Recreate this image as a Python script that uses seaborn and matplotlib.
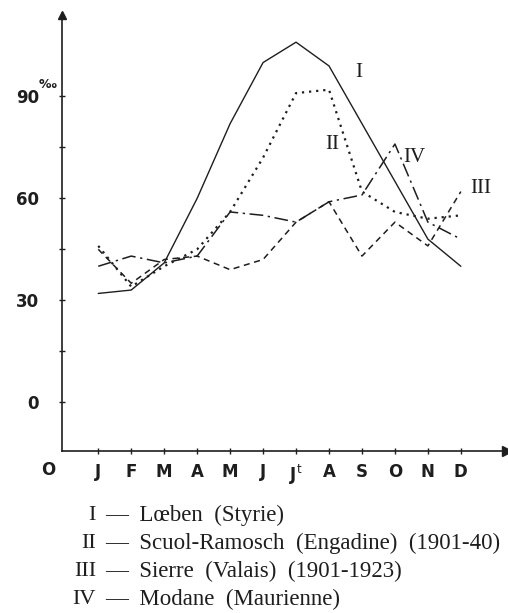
import pandas as pd
import matplotlib
matplotlib.use("Agg")
import matplotlib.pyplot as plt
import seaborn as sns

sns.set_theme(style="white")
plt.rcParams["font.family"] = ["DejaVu Sans"]

# Monthly values (per mille)
MONTHS = ["J", "F", "M", "A", "M", "J", "J$^{\\mathrm{t}}$", "A", "S", "O", "N", "D"]
MONTH_POS = list(range(1, 13))
LEOBEN = [32, 33, 41, 60, 82, 100, 106, 99, 82, 65, 48, 40]
SCUOL = [46, 34, 40, 45, 56, 72, 91, 92, 62, 56, 54, 55]
SIERRE = [45, 35, 42, 43, 39, 42, 53, 59, 43, 53, 46, 62]
MODANE = [40, 43, 41, 43, 56, 55, 53, 59, 61, 76, 53, 48]

SERIES = {"I": LEOBEN, "II": SCUOL, "III": SIERRE, "IV": MODANE}
STYLES = {
    "I": dict(linestyle="-", linewidth=1.0),
    "II": dict(linestyle=(0, (1, 2.2)), linewidth=1.6),
    "III": dict(linestyle=(0, (4, 3)), linewidth=1.1),
    "IV": dict(linestyle=(0, (9, 3, 1.5, 3)), linewidth=1.1),
}
# label anchor (month position, value)
LABEL_POS = {"I": (8.9, 97), "II": (8.1, 76), "III": (12.6, 63), "IV": (10.6, 72)}

LEGEND_NUM = ["I", "II", "III", "IV"]
LEGEND_TXT = [
    "—  Lœben  (Styrie)",
    "—  Scuol-Ramosch  (Engadine)  (1901-40)",
    "—  Sierre  (Valais)  (1901-1923)",
    "—  Modane  (Maurienne)",
]

INK = "#1e1e1e"

fig = plt.figure(figsize=(5.08, 6.13), dpi=100)
W, H = 508, 613
ax = fig.add_axes([62 / W, 1 - 451 / H, (507 - 62) / W, (451 - 15) / H])

for key, vals in SERIES.items():
    sns.lineplot(x=MONTH_POS, y=vals, ax=ax, color=INK, **STYLES[key])
    lx, ly = LABEL_POS[key]
    ax.text(lx, ly, key, family="Liberation Serif", fontsize=15,
            color=INK, ha="center", va="center")

ax.set_xlim(-0.1, 13.4)
ax.set_ylim(-14.4, 114)
for s in ["top", "right"]:
    ax.spines[s].set_visible(False)
for s in ["left", "bottom"]:
    ax.spines[s].set_color(INK)
    ax.spines[s].set_linewidth(1.2)

# axis arrows
ax.plot(0, 1, marker="^", color=INK, markersize=6, transform=ax.transAxes, clip_on=False)
ax.plot(1, 0, marker=">", color=INK, markersize=7, transform=ax.transAxes, clip_on=False)

ax.set_xticks(MONTH_POS)
ax.set_xticklabels(MONTHS, fontsize=12, fontweight="bold", color=INK)
ax.set_yticks([0, 30, 60, 90])
ax.set_yticklabels(["0", "30", "60", "90"], fontsize=12, fontweight="bold", color=INK)
ax.set_yticks([15, 45, 75], minor=True)
ax.tick_params(axis="both", which="both", direction="inout", length=5,
               width=1.0, color=INK, left=True, bottom=True)
ax.tick_params(axis="x", pad=6)
ax.tick_params(axis="y", pad=14)
ax.set_xlabel("")
ax.set_ylabel("")

# origin and per-mille sign
fig.text(48 / W, 1 - 470 / H, "O", fontsize=12, fontweight="bold", color=INK,
         ha="center", va="center")
fig.text(48 / W, 1 - 85 / H, "‰", fontsize=9, fontweight="bold", color=INK,
         ha="center", va="center")

# key below the chart
for i, (num, txt) in enumerate(zip(LEGEND_NUM, LEGEND_TXT)):
    yy = 1 - (515 + 28 * i) / H
    fig.text(96 / W, yy, num, family="Liberation Serif", fontsize=16,
             color=INK, ha="right", va="center")
    fig.text(105 / W, yy, txt, family="Liberation Serif", fontsize=16.5,
             color=INK, ha="left", va="center")

fig.savefig("out.png", dpi=100, facecolor="white")
